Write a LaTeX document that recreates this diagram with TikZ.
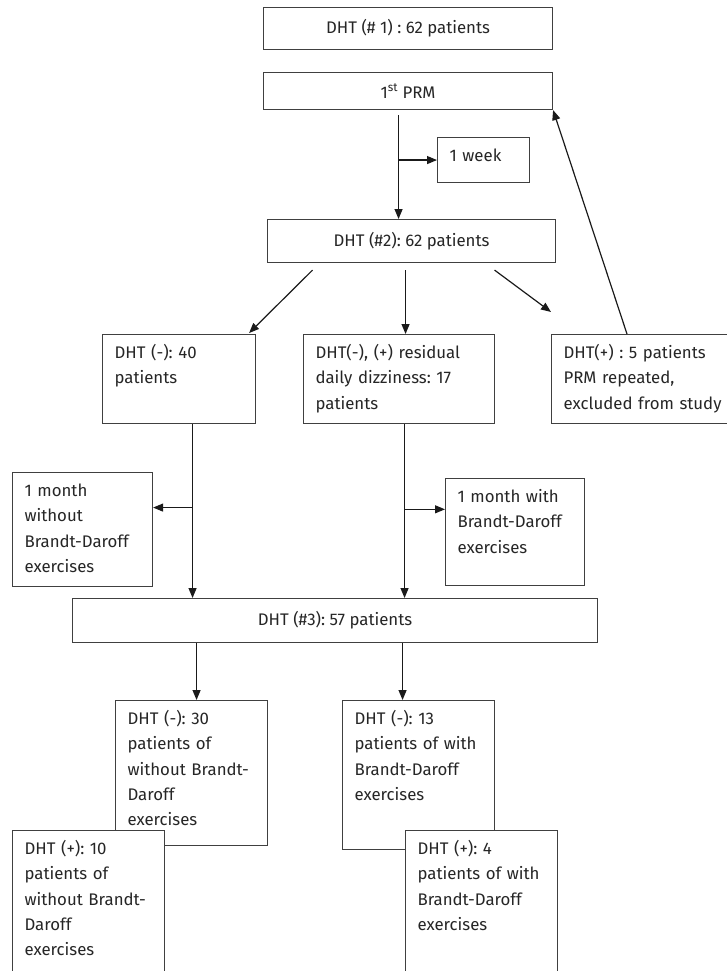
\documentclass[tikz,border=0pt]{standalone}
\usepackage{fontspec}
\setmainfont{Fira Sans}
\usepackage{tikz}
\usetikzlibrary{arrows.meta,calc}
\definecolor{boxline}{RGB}{64,64,64}
\definecolor{arrowc}{RGB}{26,26,26}
\definecolor{textc}{RGB}{38,38,38}
\frenchspacing

\begin{document}
\begin{tikzpicture}[x=1pt,y=-1pt,font=\fontsize{16.8}{25.3}\selectfont,
  >={Triangle[length=10pt,width=8pt]},
  head/.style={draw=boxline,line width=1.1pt,fill=white,anchor=north west,
    inner sep=0pt,text=textc},
  cell/.style={draw=boxline,line width=1.1pt,fill=white,anchor=north west,
    align=left,inner xsep=12pt,inner ysep=6pt,text height=18pt,text=textc},
  link/.style={->,arrowc,line width=1.2pt}]
  \useasboundingbox (0,0) rectangle (727,971);
  \clip (0,0) rectangle (727,971);
  % ---- top: first test, manoeuvre, second test ----
  \node[head,minimum width=289pt,minimum height=42pt] (dht1) at (263,7)
    {DHT (\# 1) : 62 patients};
  \node[head,minimum width=289pt,minimum height=37pt] (prm) at (263,72)
    {1\textsuperscript{st} PRM};
  \node[cell,text width=68pt,text depth=15pt] (week) at (437,137) {1 week};
  \node[head,minimum width=288pt,minimum height=43pt] (dht2) at (267,219)
    {DHT (\#2): 62 patients};
  % ---- results of the second test ----
  \node[cell,text width=129pt,text depth=59pt] (neg40) at (102,334)
    {DHT (-): 40\\patients};
  \node[cell,text width=167pt,text depth=59pt] (resid) at (303,334)
    {DHT(-), (+) residual\\daily dizziness: 17\\patients};
  \node[cell,text width=176pt,text depth=59pt] (pos5) at (551,334)
    {DHT(+) : 5 patients\\PRM repeated,\\excluded from study};
  % ---- one month, with or without exercises ----
  \node[cell,text width=116pt,text depth=84pt] (mon0) at (12,472)
    {1 month\\without\\Brandt-Daroff\\exercises};
  \node[cell,text width=115pt,text depth=77pt] (mon1) at (445,478)
    {1 month with\\Brandt-Daroff\\exercises};
  \node[head,minimum width=525pt,minimum height=44pt] (dht3) at (72,598)
    {DHT (\#3): 57 patients};
  % ---- results of the third test ----
  \node[cell,text width=128pt,text depth=115pt] (neg30) at (115,700)
    {DHT (-): 30\\patients of\\without Brandt-\\Daroff\\exercises};
  \node[cell,text width=128pt,text depth=119pt] (neg13) at (342,700)
    {DHT (-): 13\\patients of with\\Brandt-Daroff\\exercises};
  \node[cell,text width=128pt,text depth=130pt] (pos10) at (12,830)
    {DHT (+): 10\\patients of\\without Brandt-\\Daroff\\exercises};
  \node[cell,text width=128pt,text depth=130pt] (pos4) at (405,830)
    {DHT (+): 4\\patients of with\\Brandt-Daroff\\exercises};
  % ---- connectors ----
  \coordinate (w1) at ([xshift=-9.5pt,yshift=-5pt]prm.south);
  \draw[link] (w1) -- (w1 |- dht2.north);
  \draw[link] (w1 |- week.west) -- (week.west);
  \draw[link] ([shift={(-99pt,-7pt)}]dht2.south) -- ([shift={(-7pt,1pt)}]neg40.north east);
  \draw[link] ([shift={(-6pt,-7pt)}]dht2.south) -- ([xshift=-6pt]dht2.south |- resid.north);
  \coordinate (r5) at ([yshift=22pt]pos5.north west);
  \draw[link] ([shift={(83pt,-7pt)}]dht2.south) -- (r5);
  \draw[link] ([xshift=76pt]pos5.north west) -- (prm.south east);
  \coordinate (s0) at ([xshift=13.5pt]neg40.south);
  \draw[link] (s0) -- (s0 |- dht3.north);
  \coordinate (b0) at ($(s0)!0.48!(s0 |- dht3.north)$);
  \draw[link] (b0) -- (b0 -| mon0.east);
  \coordinate (s1) at ([xshift=5.5pt]resid.south);
  \draw[link] (s1) -- (s1 |- dht3.north);
  \coordinate (b1) at ($(s1)!0.49!(s1 |- dht3.north)$);
  \draw[link] (b1) -- (b1 -| mon1.west);
  \draw[link] ([xshift=5pt]neg30.north |- dht3.south) -- ([xshift=5pt]neg30.north);
  \draw[link] ([xshift=-16pt]neg13.north |- dht3.south) -- ([xshift=-16pt]neg13.north);
\end{tikzpicture}
\end{document}
